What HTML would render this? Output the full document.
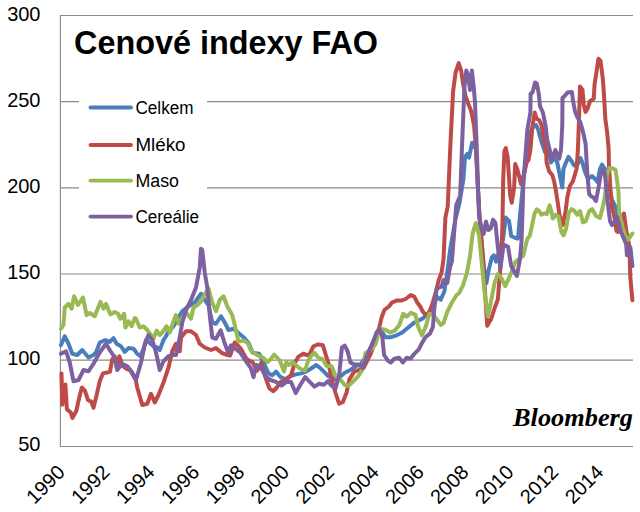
<!DOCTYPE html>
<html><head><meta charset="utf-8"><style>
html,body{margin:0;padding:0;background:#fff;width:640px;height:512px;overflow:hidden}
svg{position:absolute;left:0;top:0}
text{font-family:"Liberation Sans",sans-serif}
</style></head><body>
<svg width="640" height="512" viewBox="0 0 640 512">
<g stroke="#8a8a8a" stroke-width="1.15" fill="none">
<line x1="60" y1="15.45" x2="633" y2="15.45"/>
<line x1="60" y1="101.6" x2="633" y2="101.6"/>
<line x1="60" y1="187.8" x2="633" y2="187.8"/>
<line x1="60" y1="274.0" x2="633" y2="274.0"/>
<line x1="60" y1="360.1" x2="633" y2="360.1"/>
<line x1="60" y1="446.45" x2="633" y2="446.45"/>
<line x1="60.4" y1="15" x2="60.4" y2="447"/>
</g>
<g font-size="20" fill="#000" text-anchor="end">
<text transform="translate(40.5,21.3) scale(1,1.05)">300</text>
<text transform="translate(40.5,107.3) scale(1,1.05)">250</text>
<text transform="translate(40.5,193.3) scale(1,1.05)">200</text>
<text transform="translate(40.5,279.3) scale(1,1.05)">150</text>
<text transform="translate(40.5,365.3) scale(1,1.05)">100</text>
<text transform="translate(40.5,451.3) scale(1,1.05)">50</text>
</g>
<g font-size="20" fill="#000" text-anchor="end">
<text transform="translate(66.0,473.5) rotate(-45)">1990</text>
<text transform="translate(110.9,473.5) rotate(-45)">1992</text>
<text transform="translate(155.8,473.5) rotate(-45)">1994</text>
<text transform="translate(200.6,473.5) rotate(-45)">1996</text>
<text transform="translate(245.5,473.5) rotate(-45)">1998</text>
<text transform="translate(290.4,473.5) rotate(-45)">2000</text>
<text transform="translate(335.3,473.5) rotate(-45)">2002</text>
<text transform="translate(380.2,473.5) rotate(-45)">2004</text>
<text transform="translate(425.0,473.5) rotate(-45)">2006</text>
<text transform="translate(469.9,473.5) rotate(-45)">2008</text>
<text transform="translate(514.8,473.5) rotate(-45)">2010</text>
<text transform="translate(559.7,473.5) rotate(-45)">2012</text>
<text transform="translate(604.6,473.5) rotate(-45)">2014</text>
</g>
<path d="M61.00,345.00 L64.75,336.25 L68.50,343.75 L72.25,353.75 L77.25,355.00 L82.25,350.00 L88.50,357.50 L93.50,355.00 L96.00,352.50 L99.75,342.50 L105.40,340.00 L109.75,341.90 L113.50,338.10 L116.60,343.75 L121.00,346.25 L124.75,351.90 L128.50,348.10 L133.50,348.75 L137.25,353.75 L140.40,356.25 L143.50,348.75 L146.00,340.00 L149.10,342.50 L153.50,346.25 L157.25,347.50 L159.75,350.00 L163.50,340.00 L166.00,336.25 L168.50,331.25 L173.50,326.25 L178.50,317.50 L182.25,311.25 L188.50,306.25 L194.75,302.50 L201.00,293.75 L204.75,300.00 L208.50,305.00 L212.25,322.50 L216.00,323.75 L221.00,316.25 L224.75,322.50 L228.50,330.00 L233.50,328.75 L238.50,333.10 L244.10,337.80 L248.80,343.40 L252.60,352.80 L259.10,353.75 L263.80,363.10 L268.50,373.40 L272.25,375.30 L276.00,371.60 L280.70,377.20 L285.40,379.10 L290.00,376.25 L295.70,374.40 L301.30,373.40 L306.00,371.60 L310.70,368.75 L316.30,365.00 L320.10,367.80 L323.80,371.60 L328.50,376.25 L333.20,378.10 L336.30,380.30 L340.10,376.60 L344.75,372.80 L350.40,370.00 L356.00,366.25 L360.70,364.40 L366.30,355.90 L371.00,346.60 L375.70,337.20 L380.40,329.70 L385.40,337.20 L391.00,337.20 L396.60,335.30 L402.25,332.50 L407.90,327.80 L413.50,323.10 L419.10,320.30 L422.90,318.40 L425.70,315.60 L429.40,311.90 L433.20,308.10 L436.90,296.90 L440.70,299.70 L444.40,291.25 L446.30,278.10 L448.20,265.00 L450.10,250.00 L455.50,219.00 L459.40,203.40 L463.30,180.00 L465.00,156.90 L467.40,153.75 L469.00,157.70 L470.50,150.60 L472.10,142.80 L473.70,146.00 L476.00,149.00 L478.00,190.00 L479.50,216.00 L481.50,240.00 L484.00,268.00 L486.40,283.20 L488.60,270.30 L491.80,257.40 L494.00,255.30 L496.10,261.70 L499.75,249.40 L502.90,240.00 L505.80,217.60 L509.00,220.90 L511.20,236.00 L515.50,238.00 L518.00,238.60 L520.40,211.25 L523.50,180.00 L527.00,150.00 L530.00,133.00 L533.50,126.25 L536.00,125.00 L537.90,128.75 L541.00,140.00 L545.00,152.00 L548.50,150.00 L551.00,162.50 L554.10,157.50 L557.25,162.50 L559.75,175.00 L562.25,187.50 L563.50,168.75 L566.00,162.50 L568.50,156.90 L571.60,161.25 L574.10,165.60 L577.25,165.00 L580.50,158.00 L582.50,163.00 L585.00,172.00 L588.00,179.00 L592.00,176.00 L595.00,179.00 L597.50,182.00 L600.00,169.00 L602.00,164.50 L604.50,168.50 L606.00,170.00 L609.00,185.00 L612.00,200.00 L616.00,208.00 L620.00,222.00 L624.00,235.00 L629.00,245.00 L630.50,252.00" stroke="#4a7ebb" stroke-width="4.0" fill="none" stroke-linejoin="round" stroke-linecap="round"/>
<path d="M61.50,373.40 L62.25,404.70 L65.40,384.40 L66.90,409.40 L70.80,412.50 L72.40,418.00 L76.30,411.00 L79.40,396.90 L81.80,387.50 L84.90,390.60 L88.00,400.00 L91.20,401.60 L93.50,407.80 L96.60,395.30 L99.75,381.25 L102.90,373.40 L106.00,372.70 L109.90,371.90 L112.25,359.40 L114.60,356.25 L117.00,368.00 L119.30,356.25 L122.40,365.60 L126.30,368.75 L130.20,370.30 L135.70,379.70 L137.25,387.50 L142.25,405.00 L147.25,403.75 L151.00,393.75 L154.75,402.50 L158.50,395.00 L163.50,382.50 L168.50,367.50 L172.25,351.25 L176.00,343.75 L179.75,351.25 L181.00,337.50 L186.00,331.25 L191.00,331.25 L196.00,335.00 L199.75,343.75 L204.75,347.50 L211.00,350.00 L216.00,348.10 L221.60,352.80 L226.30,354.70 L230.10,355.60 L234.75,342.50 L240.40,348.10 L246.90,359.40 L252.60,362.20 L257.25,370.60 L261.00,363.10 L265.70,378.10 L269.40,388.40 L273.20,391.25 L276.90,387.50 L280.70,381.90 L286.30,380.00 L291.00,375.30 L294.75,363.10 L298.50,356.60 L303.20,353.75 L308.80,355.60 L313.50,346.25 L318.20,344.40 L322.90,345.30 L326.60,357.50 L328.80,364.40 L331.60,379.40 L335.40,392.50 L339.10,403.75 L342.90,401.90 L346.60,392.50 L349.40,379.40 L354.10,371.90 L358.80,370.00 L363.50,368.10 L367.25,360.60 L371.00,353.10 L374.75,341.90 L378.50,330.60 L381.60,317.50 L384.40,310.00 L389.10,306.25 L392.00,302.50 L396.60,300.60 L401.30,300.60 L406.00,298.75 L410.70,295.00 L414.40,296.90 L417.25,302.50 L420.10,306.25 L422.90,311.90 L425.70,314.70 L428.50,313.75 L432.25,304.40 L436.00,291.25 L438.80,280.00 L441.60,272.50 L443.50,259.40 L445.40,217.50 L447.70,206.60 L450.20,149.00 L453.10,91.25 L455.60,72.50 L458.75,63.10 L461.25,71.25 L463.10,83.75 L465.60,96.25 L468.75,105.00 L471.25,111.25 L474.00,125.00 L476.00,149.00 L478.00,190.00 L479.50,216.00 L481.00,235.00 L483.00,260.00 L484.90,290.00 L487.25,325.80 L491.20,319.00 L494.50,308.50 L497.90,299.20 L499.20,282.00 L500.50,266.00 L501.60,248.00 L502.40,226.90 L503.20,180.00 L504.40,151.00 L505.80,148.10 L507.70,157.50 L510.20,195.60 L511.80,202.70 L514.10,187.80 L515.20,164.00 L517.40,169.40 L519.75,178.75 L521.00,184.00 L524.40,172.50 L526.60,162.50 L528.50,160.00 L530.40,150.00 L532.25,127.50 L534.75,112.50 L536.60,118.75 L539.10,120.00 L541.60,125.00 L543.50,137.50 L546.00,150.00 L546.60,162.50 L549.10,171.25 L552.25,175.00 L554.10,181.25 L556.00,191.25 L557.90,203.75 L559.50,215.00 L562.70,225.00 L565.50,212.00 L567.25,197.50 L569.75,186.25 L572.90,181.25 L574.75,175.00 L576.60,168.75 L577.90,150.00 L578.80,125.00 L579.60,100.00 L580.00,86.50 L582.50,90.00 L583.75,105.00 L585.60,111.90 L587.50,108.75 L590.00,101.25 L593.75,98.75 L594.50,85.00 L596.30,73.00 L598.40,58.75 L600.60,61.00 L601.70,69.70 L602.80,78.40 L603.90,93.75 L605.30,118.75 L607.20,132.80 L608.60,148.00 L609.00,166.00 L610.50,190.00 L612.00,208.00 L614.00,215.00 L616.50,231.00 L618.00,232.00 L620.00,224.00 L622.00,217.00 L624.00,213.50 L625.00,221.00 L626.50,232.00 L628.00,238.00 L629.50,250.00 L630.30,277.00 L632.40,300.30" stroke="#be4b48" stroke-width="4.0" fill="none" stroke-linejoin="round" stroke-linecap="round"/>
<path d="M61.00,328.75 L63.50,325.00 L64.75,307.50 L68.50,303.75 L71.60,308.75 L74.10,296.25 L77.90,305.00 L82.90,297.50 L86.60,315.00 L89.75,313.00 L94.75,316.25 L100.40,301.90 L103.50,308.75 L106.00,303.75 L110.40,314.40 L114.75,311.90 L117.90,313.75 L120.40,318.75 L124.10,313.75 L125.40,327.50 L128.50,321.25 L131.60,326.25 L134.75,318.00 L136.00,318.75 L139.75,327.50 L143.50,326.25 L147.25,330.00 L153.50,338.75 L156.60,330.60 L159.75,335.00 L162.25,332.50 L166.60,326.25 L169.75,332.50 L173.50,321.25 L176.00,315.00 L179.00,323.75 L183.50,317.50 L186.00,312.50 L191.00,318.75 L193.50,307.50 L197.25,305.00 L201.00,301.25 L203.50,296.25 L208.50,288.75 L212.25,302.50 L216.00,311.25 L219.75,300.00 L223.50,296.25 L227.25,306.25 L232.25,315.00 L234.75,325.00 L236.60,333.10 L238.50,341.60 L244.10,340.60 L247.90,343.40 L250.70,350.00 L253.50,352.80 L258.20,355.60 L262.90,357.50 L267.60,362.20 L270.40,359.40 L274.10,354.70 L279.75,360.30 L284.00,371.50 L286.30,362.20 L289.10,365.00 L292.90,362.20 L296.60,365.90 L300.40,368.75 L305.10,370.60 L307.90,361.25 L310.70,356.60 L314.40,352.80 L318.20,357.50 L322.90,359.40 L326.60,365.90 L331.60,366.25 L335.40,375.60 L340.10,379.40 L344.75,385.00 L348.50,385.90 L353.20,381.25 L357.90,376.60 L362.60,369.10 L365.40,353.10 L371.00,349.40 L375.70,343.75 L379.75,328.75 L385.40,329.70 L390.10,332.50 L394.75,330.60 L399.40,325.00 L403.20,313.75 L406.90,316.60 L410.70,312.80 L415.40,314.70 L418.20,326.90 L421.90,335.30 L425.70,326.90 L429.40,313.75 L433.20,314.70 L436.90,319.40 L440.70,325.00 L443.50,323.10 L447.25,311.90 L451.90,302.50 L456.60,295.00 L459.10,293.10 L463.00,285.30 L466.90,272.80 L470.10,255.60 L472.70,233.10 L475.80,223.00 L479.00,234.70 L481.80,263.40 L484.60,292.60 L487.90,316.50 L491.20,300.50 L494.50,283.30 L497.90,274.00 L501.20,278.00 L505.20,286.00 L508.50,279.30 L511.80,271.30 L515.40,261.90 L519.30,258.75 L523.20,255.60 L527.30,239.00 L529.70,236.00 L532.00,225.80 L534.40,214.00 L536.70,209.40 L539.00,211.00 L541.40,214.80 L544.50,213.30 L546.90,214.00 L549.60,205.40 L551.50,212.00 L552.90,218.50 L555.70,214.75 L558.50,216.60 L561.30,231.60 L563.60,235.40 L566.00,228.80 L568.80,212.90 L571.60,209.10 L574.40,211.00 L577.25,214.75 L580.00,211.00 L582.90,222.25 L585.70,221.30 L589.40,211.00 L592.20,209.10 L596.00,216.00 L600.00,218.00 L603.00,206.00 L605.00,196.00 L607.00,175.00 L609.50,168.00 L613.00,168.50 L615.50,170.00 L617.00,180.00 L618.50,192.00 L619.00,211.00 L621.00,221.00 L623.00,229.00 L625.50,236.00 L628.00,240.00 L630.50,236.00 L632.50,233.50" stroke="#98b954" stroke-width="4.0" fill="none" stroke-linejoin="round" stroke-linecap="round"/>
<path d="M61.00,353.75 L66.00,351.25 L69.75,362.50 L73.50,381.25 L78.50,380.00 L83.50,370.00 L88.50,371.25 L93.50,363.75 L99.75,352.50 L106.00,343.75 L109.75,350.00 L114.75,357.50 L117.25,370.00 L122.25,363.75 L127.25,366.25 L132.25,372.50 L136.00,380.00 L141.00,362.50 L144.75,345.00 L148.50,335.00 L152.25,340.00 L156.00,352.50 L159.75,370.00 L163.50,361.25 L168.50,356.25 L173.50,355.00 L176.00,355.00 L179.75,337.50 L182.25,322.50 L186.00,310.00 L191.00,300.00 L196.00,287.50 L199.75,267.50 L201.00,248.75 L202.25,250.00 L204.75,272.50 L207.25,287.50 L209.75,315.00 L212.25,337.50 L216.00,338.75 L220.70,330.30 L224.40,342.50 L228.20,352.80 L231.00,345.30 L235.70,349.00 L240.40,352.80 L246.00,361.25 L250.70,367.80 L253.50,377.20 L256.30,365.00 L261.00,367.80 L265.70,376.25 L270.40,380.00 L276.00,381.90 L281.60,385.60 L286.30,381.90 L291.00,381.90 L295.70,393.10 L300.40,384.70 L305.10,377.20 L309.75,381.90 L314.40,386.60 L319.10,383.75 L323.80,384.70 L328.50,380.90 L330.70,385.00 L335.40,388.75 L339.10,375.60 L341.90,347.50 L344.75,345.60 L347.60,351.25 L350.40,362.50 L354.10,364.40 L358.80,364.40 L362.60,368.10 L367.25,355.00 L371.90,344.70 L376.60,332.50 L379.40,328.75 L382.25,336.25 L384.10,355.00 L387.90,360.60 L390.70,362.50 L394.40,358.75 L399.10,357.80 L402.90,362.50 L406.60,357.80 L410.40,358.75 L414.10,354.10 L418.80,349.40 L421.60,343.75 L425.40,337.20 L430.10,333.40 L432.90,326.90 L435.10,298.75 L436.90,288.40 L441.60,286.60 L443.50,280.00 L447.25,282.80 L450.10,266.90 L451.90,261.25 L456.30,205.00 L460.20,195.60 L461.90,149.00 L463.50,110.00 L464.40,87.50 L466.25,70.60 L468.10,75.00 L470.00,90.00 L471.90,70.60 L473.75,87.50 L475.00,102.50 L476.80,149.00 L479.00,216.00 L481.30,226.90 L483.70,233.90 L486.00,221.40 L488.30,230.00 L490.70,228.40 L493.00,219.80 L495.40,223.00 L497.70,245.60 L500.40,268.20 L503.60,244.50 L508.00,246.70 L511.20,266.00 L516.90,276.00 L520.00,258.75 L521.60,240.00 L523.50,180.00 L526.00,148.10 L527.40,129.40 L530.40,112.50 L530.60,93.75 L532.50,92.50 L535.00,82.50 L536.90,83.75 L538.75,93.75 L540.00,106.25 L542.90,112.50 L545.40,125.00 L547.25,140.00 L549.75,150.00 L552.20,159.40 L555.40,150.00 L557.25,155.00 L559.10,158.75 L561.00,150.00 L562.30,125.00 L562.50,98.00 L565.00,95.60 L567.50,92.50 L571.90,91.90 L573.10,101.25 L575.00,111.25 L577.50,117.50 L580.00,121.25 L581.90,127.50 L583.75,135.00 L585.60,144.00 L587.25,172.50 L589.10,193.75 L591.00,196.25 L593.50,197.50 L596.00,201.00 L599.00,185.00 L601.00,173.00 L603.00,170.00 L605.00,175.00 L606.50,190.00 L607.50,201.00 L610.00,221.00 L612.00,225.00 L615.00,222.00 L617.00,217.00 L619.00,224.00 L621.00,232.00 L624.00,239.00 L626.20,244.20 L626.90,255.20 L630.30,247.00 L632.40,266.00" stroke="#7d60a0" stroke-width="4.0" fill="none" stroke-linejoin="round" stroke-linecap="round"/>
<rect x="79" y="90" width="128" height="140" fill="#fff"/>
<g stroke-width="3.9" stroke-linecap="round">
<line x1="90.5" y1="107.5" x2="131" y2="107.5" stroke="#4a7ebb"/>
<line x1="90.5" y1="145" x2="131" y2="145" stroke="#be4b48"/>
<line x1="90.5" y1="180.6" x2="131" y2="180.6" stroke="#98b954"/>
<line x1="90.5" y1="216.6" x2="131" y2="216.6" stroke="#7d60a0"/>
</g>
<g font-size="18" fill="#000" lengthAdjust="spacingAndGlyphs">
<text x="135.5" y="113.5" textLength="58" lengthAdjust="spacingAndGlyphs">Celkem</text>
<text x="135.5" y="151" textLength="50" lengthAdjust="spacingAndGlyphs">Mléko</text>
<text x="135.5" y="186.6" textLength="43.5" lengthAdjust="spacingAndGlyphs">Maso</text>
<text x="135.5" y="222.6" textLength="63.5" lengthAdjust="spacingAndGlyphs">Cereálie</text>
</g>
<text x="74" y="53.75" font-size="34" font-weight="bold" fill="#000" textLength="304" lengthAdjust="spacingAndGlyphs">Cenové indexy FAO</text>
<text x="513" y="425.6" font-size="26" font-weight="bold" font-style="italic" fill="#000" textLength="120" lengthAdjust="spacingAndGlyphs" style="font-family:'Liberation Serif',serif">Bloomberg</text>
</svg>
</body></html>
